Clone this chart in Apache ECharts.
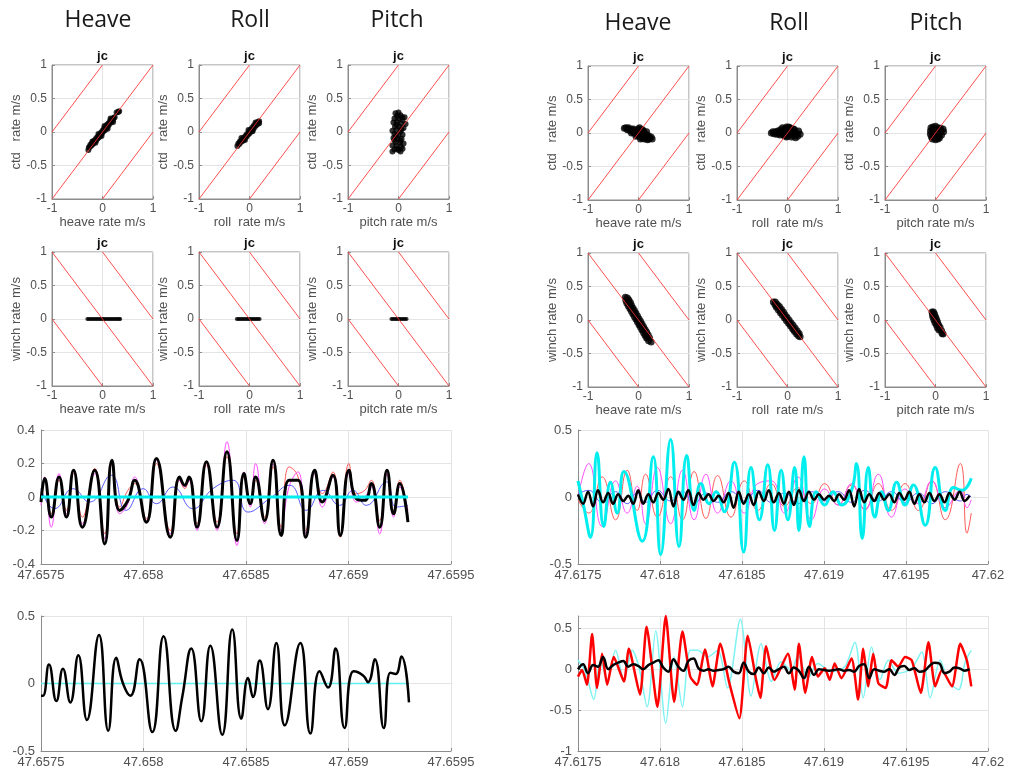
<!DOCTYPE html>
<html><head><meta charset="utf-8">
<script src="https://cdn.jsdelivr.net/npm/echarts@6/dist/echarts.min.js"></script>
<style>html,body{margin:0;padding:0;background:#fff}#c{width:1009px;height:779px}</style>
</head><body><div id="c"></div>
<script>
// ---------------- DATA ----------------
const headers = ['Heave', 'Roll', 'Pitch'];
const panelTitle = 'jc';
const xNames = ['heave rate m/s', 'roll  rate m/s', 'pitch rate m/s'];
const yNameCtd = 'ctd   rate m/s';
const yNameWinch = 'winch rate m/s';

// reference lines (x, y pairs)
const diagCtd = [[[-1, 0], [0, 1]], [[-1, -1], [1, 1]], [[0, -1], [1, 0]]];
const diagWinch = [[[-1, 1], [1, -1]], [[0, 1], [1, 0]], [[-1, 0], [0, -1]]];

// left group, ctd vs heave / roll / pitch rate
const L_ctd_heave = [[-0.28,-0.27],[-0.27,-0.23],[-0.25,-0.22],[-0.24,-0.19],[-0.22,-0.2],[-0.21,-0.17],[-0.19,-0.18],[-0.18,-0.14],[-0.16,-0.15],[-0.15,-0.12],[-0.13,-0.13],[-0.12,-0.09],[-0.1,-0.1],[-0.09,-0.07],[-0.07,-0.08],[-0.06,-0.04],[-0.04,-0.05],[-0.03,-0.01],[-0.01,-0.02],[0,0.02],[0.02,0.01],[0.03,0.05],[0.05,0.03],[0.06,0.08],[0.08,0.06],[0.09,0.11],[0.11,0.09],[0.12,0.13],[0.14,0.12],[0.15,0.16],[0.17,0.15],[0.18,0.19],[0.2,0.18],[0.22,0.21],[0.24,0.22],[0.28,0.29],[0.31,0.3],[0.33,0.31],[-0.2,-0.14],[-0.14,-0.16],[-0.08,-0.03],[-0.02,-0.06],[0.04,0.09],[0.1,0.05],[0.16,0.2],[0.21,0.15]];
const L_ctd_roll = [[-0.24,-0.21],[-0.22,-0.17],[-0.2,-0.18],[-0.19,-0.14],[-0.17,-0.15],[-0.15,-0.12],[-0.13,-0.13],[-0.12,-0.09],[-0.1,-0.1],[-0.08,-0.06],[-0.06,-0.07],[-0.05,-0.03],[-0.03,-0.04],[-0.01,0],[0,-0.02],[0.02,0.03],[0.04,0.01],[0.05,0.06],[0.07,0.04],[0.08,0.09],[0.1,0.07],[0.11,0.11],[0.13,0.1],[0.14,0.13],[0.16,0.12],[0.17,0.15],[0.19,0.16],[0.19,0.13],[-0.16,-0.09],[-0.09,-0.12],[-0.02,0.03],[0.06,0.01],[0.12,0.14]];
const L_ctd_pitch = [[-0.06,0.28],[0.0,0.29],[-0.03,0.24],[0.04,0.25],[0.12,0.22],[-0.08,0.2],[0.0,0.2],[0.08,0.18],[-0.1,0.14],[-0.03,0.15],[0.05,0.13],[0.14,0.12],[-0.07,0.08],[0.02,0.08],[0.1,0.06],[-0.12,0.02],[-0.04,0.03],[0.04,0.01],[-0.08,-0.03],[0.0,-0.04],[0.08,-0.04],[-0.1,-0.09],[-0.02,-0.1],[0.06,-0.1],[-0.06,-0.15],[0.03,-0.16],[0.1,-0.17],[-0.12,-0.2],[-0.04,-0.21],[0.05,-0.22],[-0.08,-0.26],[0.0,-0.27],[0.08,-0.25],[-0.12,-0.29],[0.04,-0.29],[-0.04,0.11],[0.06,0.04],[-0.05,-0.06],[0.04,-0.13],[-0.08,-0.12],[0.07,0.22],[-0.02,-0.25]];
// left group, winch vs heave / roll / pitch rate (winch rate is zero)
const L_winch_heave = [[-0.3,0],[-0.27,0],[-0.24,0],[-0.21,0],[-0.18,0],[-0.15,0],[-0.12,0],[-0.09,0],[-0.06,0],[-0.03,0],[0,0],[0.03,0],[0.06,0],[0.09,0],[0.12,0],[0.15,0],[0.18,0],[0.21,0],[0.24,0],[0.27,0],[0.3,0],[0.33,0],[0.35,0]];
const L_winch_roll = [[-0.25,0],[-0.22,0],[-0.19,0],[-0.16,0],[-0.13,0],[-0.1,0],[-0.07,0],[-0.04,0],[-0.01,0],[0.02,0],[0.05,0],[0.08,0],[0.11,0],[0.14,0],[0.17,0],[0.2,0]];
const L_winch_pitch = [[-0.14,0],[-0.11,0],[-0.08,0],[-0.05,0],[-0.02,0],[0.01,0],[0.04,0],[0.07,0],[0.1,0],[0.13,0],[0.16,0]];

// right group
const R_ctd_heave = [[-0.28,0.07],[-0.25,0.08],[-0.22,0.05],[-0.2,0.08],[-0.18,0.04],[-0.15,0.06],[-0.12,0.03],[-0.1,0.06],[-0.08,0.0],[-0.06,0.04],[-0.04,-0.02],[-0.02,0.03],[0.0,-0.04],[0.02,0.01],[0.04,-0.06],[0.06,0.0],[0.08,-0.08],[0.1,-0.03],[0.12,-0.09],[0.14,-0.02],[0.16,-0.07],[0.18,-0.1],[0.2,-0.04],[0.22,-0.08],[0.25,-0.06],[0.27,-0.09],[0.0,0.06],[0.05,0.05],[-0.05,-0.05],[0.1,0.03],[-0.14,0.0],[0.13,-0.05],[0.07,-0.04],[-0.02,-0.01],[0.02,0.08],[0.08,0.05],[0.16,0.02],[-0.1,0.01],[0.04,-0.09],[0.2,-0.09]];
const R_ctd_roll = [[-0.32,0.0],[-0.29,0.02],[-0.27,-0.01],[-0.24,0.02],[-0.22,-0.02],[-0.19,0.03],[-0.17,-0.01],[-0.14,0.05],[-0.12,0.0],[-0.1,0.08],[-0.08,-0.03],[-0.06,0.06],[-0.04,0.01],[-0.02,0.09],[0.0,-0.05],[0.02,0.04],[0.04,-0.02],[0.06,0.07],[0.08,-0.06],[0.1,0.02],[0.12,-0.04],[0.14,0.05],[0.16,-0.07],[0.18,0.0],[0.2,-0.05],[0.22,0.03],[0.25,-0.02],[-0.06,-0.04],[0.05,0.08],[0.12,0.06],[-0.15,-0.03],[0.02,0.09],[-0.02,-0.06],[0.08,0.04],[0.15,-0.02]];
const R_ctd_pitch = [[-0.09,0.08],[-0.05,0.09],[0.0,0.1],[0.05,0.08],[0.1,0.07],[0.15,0.06],[-0.1,0.03],[-0.05,0.04],[0.0,0.05],[0.05,0.03],[0.1,0.02],[0.16,0.02],[-0.1,-0.02],[-0.04,-0.01],[0.02,0.0],[0.07,-0.02],[0.12,-0.03],[-0.08,-0.06],[-0.03,-0.05],[0.03,-0.06],[0.08,-0.07],[-0.06,-0.09],[0.0,-0.1],[0.05,-0.09]];
const R_winch_heave = [[-0.26,0.34],[-0.22,0.33],[-0.25,0.29],[-0.19,0.3],[-0.23,0.25],[-0.16,0.26],[-0.2,0.21],[-0.14,0.22],[-0.17,0.17],[-0.11,0.18],[-0.14,0.13],[-0.08,0.14],[-0.11,0.09],[-0.05,0.1],[-0.08,0.05],[-0.02,0.06],[-0.05,0.01],[0.01,0.02],[-0.02,-0.03],[0.04,-0.02],[0.01,-0.07],[0.07,-0.06],[0.04,-0.11],[0.1,-0.1],[0.07,-0.15],[0.13,-0.14],[0.1,-0.19],[0.16,-0.18],[0.13,-0.23],[0.19,-0.22],[0.16,-0.27],[0.22,-0.27],[0.2,-0.31],[0.25,-0.33],[-0.21,0.28],[-0.15,0.19],[-0.09,0.11],[-0.03,0.02],[0.03,-0.06],[0.09,-0.14],[0.15,-0.22],[0.18,-0.26]];
const R_winch_roll = [[-0.28,0.27],[-0.24,0.27],[-0.25,0.23],[-0.2,0.23],[-0.22,0.19],[-0.16,0.2],[-0.18,0.15],[-0.12,0.16],[-0.14,0.11],[-0.08,0.12],[-0.1,0.07],[-0.05,0.08],[-0.06,0.03],[-0.01,0.04],[-0.02,-0.01],[0.03,0.0],[0.02,-0.05],[0.07,-0.04],[0.06,-0.09],[0.11,-0.08],[0.1,-0.13],[0.15,-0.12],[0.14,-0.17],[0.19,-0.16],[0.18,-0.21],[0.23,-0.2],[0.22,-0.24],[0.25,-0.25],[-0.21,0.21],[-0.13,0.13],[-0.04,0.04],[0.05,-0.06],[0.13,-0.15],[0.2,-0.2]];
const R_winch_pitch = [[-0.07,0.12],[-0.04,0.12],[-0.06,0.08],[-0.02,0.09],[-0.05,0.04],[0.0,0.05],[-0.03,0.0],[0.02,0.01],[-0.01,-0.04],[0.04,-0.03],[0.02,-0.08],[0.06,-0.07],[0.04,-0.12],[0.09,-0.11],[0.07,-0.15],[0.12,-0.16],[0.13,-0.2],[0.15,-0.21]];

// ---- time series, left (47.6575 .. 47.6595) ----
const leftXTicks = [47.6575, 47.6595, 0.0005];
const lT3 = [47.657500,47.657518,47.657550,47.657588,47.657624,47.657659,47.657702,47.657762,47.657811,47.657846,47.657884,47.657924,47.657957,47.658014,47.658063,47.658131,47.658176,47.658201,47.658222,47.658261,47.658307,47.658359,47.658407,47.658456,47.658490,47.658521,47.658547,47.658591,47.658632,47.658672,47.658710,47.658754,47.658791,47.658835,47.658872,47.658924,47.658960,47.659002,47.659038,47.659079,47.659111,47.659152,47.659188,47.659220,47.659250,47.659290];
const lBlack3 = [-0.03,0.11,-0.12,0.12,-0.12,0.16,-0.18,0.16,-0.28,0.22,-0.08,-0.02,0.10,-0.15,0.23,-0.24,0.12,0.07,0.12,-0.18,0.21,-0.18,0.27,-0.26,0.14,-0.04,0.12,-0.14,0.22,-0.23,0.10,0.10,-0.24,0.16,-0.03,0.13,-0.23,0.16,-0.01,-0.02,0.08,-0.18,0.16,-0.10,0.08,-0.15];
const lRed3 = [-0.02,0.10,-0.10,0.10,-0.08,0.14,-0.12,0.17,-0.22,0.20,-0.06,0.04,0.08,-0.13,0.20,-0.20,0.10,0.05,0.11,-0.16,0.19,-0.15,0.24,-0.22,0.12,-0.02,0.10,-0.12,0.18,-0.18,0.18,0.12,-0.20,0.14,0.02,0.15,-0.24,0.20,0.02,0.04,0.10,-0.14,0.14,-0.08,0.10,-0.12];
const lMag3 = [-0.05,0.12,-0.18,0.14,-0.10,0.15,-0.16,0.14,-0.25,0.20,-0.10,-0.04,0.12,-0.14,0.22,-0.22,0.10,0.06,0.10,-0.20,0.20,-0.20,0.33,-0.29,0.15,-0.06,0.20,-0.16,0.20,-0.20,0.06,0.15,-0.22,0.14,-0.06,0.12,-0.22,0.14,-0.03,0.00,0.06,-0.22,0.14,-0.12,0.06,-0.08];
const lT3blue = [47.657500,47.657567,47.657656,47.657737,47.657843,47.657916,47.657998,47.658063,47.658144,47.658241,47.658339,47.658437,47.658510,47.658615,47.658713,47.658794,47.658876,47.658957,47.659022,47.659087,47.659185,47.659233,47.659290];
const lBlue3 = [0.05,-0.07,0.05,-0.03,0.13,-0.08,0.05,-0.04,0.06,-0.07,0.05,0.10,-0.09,-0.01,0.07,-0.08,0.04,-0.05,0.04,-0.05,0.09,-0.06,-0.05];
const lCyanT = [47.657500, 47.659290];
const lCyan = [0, 0];
const lT4 = [47.657500,47.657510,47.657539,47.657575,47.657607,47.657643,47.657682,47.657724,47.657783,47.657828,47.657867,47.657900,47.657936,47.657981,47.658043,47.658098,47.658157,47.658189,47.658233,47.658282,47.658326,47.658384,47.658433,47.658477,47.658510,47.658534,47.658567,47.658607,47.658648,47.658689,47.658765,47.658814,47.658859,47.658900,47.658937,47.658981,47.659025,47.659071,47.659095,47.659128,47.659172,47.659204,47.659230,47.659258,47.659295];
const lBlack4 = [-0.09,-0.09,0.14,-0.13,0.11,-0.14,0.21,-0.27,0.36,-0.35,0.19,0.00,-0.09,0.18,-0.36,0.35,-0.35,-0.10,0.26,-0.28,0.28,-0.38,0.40,-0.26,0.04,-0.10,0.17,-0.19,0.30,-0.31,0.30,-0.37,0.09,-0.03,0.26,-0.33,0.09,0.06,0.01,0.18,-0.33,0.08,0.07,0.20,-0.14];
const lCyan4T = [47.657500, 47.659295];
const lCyan4 = [0, 0];

// ---- time series, right (47.6175 .. 47.62) ----
const rGridT = [47.617500,47.617531,47.617561,47.617592,47.617622,47.617653,47.617684,47.617714,47.617745,47.617776,47.617806,47.617837,47.617867,47.617898,47.617929,47.617959,47.617990,47.618020,47.618051,47.618082,47.618112,47.618143,47.618173,47.618204,47.618235,47.618265,47.618296,47.618327,47.618357,47.618388,47.618418,47.618449,47.618480,47.618510,47.618541,47.618571,47.618602,47.618633,47.618663,47.618694,47.618725,47.618755,47.618786,47.618816,47.618847,47.618878,47.618908,47.618939,47.618969,47.619000,47.619031,47.619061,47.619092,47.619122,47.619153,47.619184,47.619214,47.619245,47.619276,47.619306,47.619337,47.619367,47.619398,47.619429,47.619459,47.619490,47.619520,47.619551,47.619582,47.619612,47.619643,47.619673,47.619704,47.619735,47.619765,47.619796,47.619827,47.619857,47.619888];
const rBlack3 = [0.02,-0.05,0.04,-0.07,0.05,-0.04,0.03,-0.05,0.02,-0.03,0.01,-0.05,0.05,-0.05,0.02,-0.04,0.03,-0.02,0.06,-0.07,0.04,-0.02,0.05,-0.06,0.03,-0.02,0.02,-0.03,0.01,-0.04,0.03,-0.08,0.04,-0.05,0.02,-0.06,0.04,-0.03,0.05,-0.04,0.03,-0.05,0.04,-0.06,0.05,-0.03,0.04,-0.02,0.02,-0.02,0.01,-0.03,0.02,-0.02,0.05,-0.07,0.06,-0.04,0.02,-0.03,0.03,-0.02,0.02,-0.04,0.03,-0.02,0.04,-0.05,0.02,-0.04,0.03,-0.03,0.02,-0.04,0.03,-0.02,0.04,-0.03,0.01];
const rCyanT3 = [47.617500,47.617535,47.617576,47.617616,47.617657,47.617698,47.617739,47.617780,47.617892,47.617959,47.618004,47.618065,47.618116,47.618163,47.618208,47.618249,47.618300,47.618341,47.618392,47.618453,47.618510,47.618555,47.618606,47.618657,47.618698,47.618739,47.618780,47.618821,47.618847,47.618878,47.618912,47.618953,47.619004,47.619055,47.619106,47.619168,47.619198,47.619233,47.619270,47.619310,47.619351,47.619392,47.619443,47.619494,47.619545,47.619617,47.619678,47.619739,47.619790,47.619841,47.619898];
const rCyan3 = [0.12,-0.07,-0.30,0.33,-0.22,0.11,-0.12,0.19,-0.33,0.30,-0.43,0.43,-0.37,0.31,-0.10,0.10,-0.05,0.04,-0.11,0.26,-0.41,0.22,-0.17,0.24,-0.25,0.20,-0.17,0.22,-0.25,0.30,-0.22,0.04,-0.06,0.04,-0.06,0.05,0.25,-0.31,0.22,-0.15,0.04,-0.10,0.11,-0.06,0.09,-0.21,0.22,-0.10,0.07,0.05,0.14];
const rThinT3 = [47.617500,47.617565,47.617647,47.617729,47.617800,47.617861,47.617912,47.617984,47.618065,47.618137,47.618208,47.618280,47.618351,47.618433,47.618514,47.618596,47.618678,47.618759,47.618841,47.618923,47.619004,47.619086,47.619168,47.619249,47.619331,47.619412,47.619494,47.619576,47.619657,47.619739,47.619831,47.619872,47.619898];
const rRed3 = [-0.02,-0.12,0.15,-0.17,0.20,-0.10,0.17,-0.15,0.15,-0.17,0.19,-0.16,0.16,-0.15,0.12,-0.10,0.10,-0.07,0.07,-0.05,0.10,-0.06,0.09,-0.09,0.10,-0.10,0.10,-0.10,0.12,-0.17,0.25,-0.27,-0.12];
const rMag3 = [0.00,0.25,-0.22,0.12,-0.12,0.08,-0.20,0.22,-0.20,0.20,-0.17,0.17,-0.12,0.12,-0.12,0.10,0.12,-0.12,0.15,-0.17,0.06,-0.06,0.10,-0.10,0.17,-0.15,0.06,-0.05,0.12,-0.08,0.05,-0.08,-0.02];
const rBlue3 = [0.02,0.05,-0.04,0.04,-0.05,0.03,-0.04,0.05,-0.03,0.04,-0.05,0.03,-0.04,0.04,-0.03,0.05,-0.04,0.03,-0.05,0.04,-0.03,0.04,-0.04,0.05,-0.03,0.04,-0.04,0.03,-0.05,0.04,-0.03,0.02,0.00];
const rRedT4 = [47.617500,47.617525,47.617555,47.617586,47.617616,47.617647,47.617678,47.617718,47.617780,47.617810,47.617878,47.617918,47.617984,47.618035,47.618086,47.618137,47.618184,47.618225,47.618274,47.618320,47.618367,47.618423,47.618484,47.618535,47.618586,47.618612,47.618647,47.618698,47.618780,47.618821,47.618847,47.618886,47.618927,47.618963,47.619004,47.619035,47.619065,47.619106,47.619168,47.619208,47.619239,47.619270,47.619300,47.619331,47.619376,47.619412,47.619453,47.619494,47.619535,47.619590,47.619637,47.619678,47.619719,47.619780,47.619831,47.619872,47.619898];
const rRed4 = [-0.09,-0.01,-0.19,0.43,-0.23,0.19,-0.19,0.15,-0.15,0.25,-0.31,0.52,-0.46,0.65,-0.40,0.46,-0.09,-0.19,0.24,-0.21,0.31,-0.17,-0.60,0.41,-0.13,-0.35,0.28,-0.13,0.19,-0.25,0.31,-0.29,0.15,-0.09,0.01,-0.13,0.07,-0.11,0.13,-0.37,0.25,-0.21,0.19,-0.17,-0.23,0.11,0.03,0.15,0.11,-0.29,0.33,-0.21,-0.01,-0.21,0.31,0.10,-0.21];
const rCyanT4 = [47.617500,47.617545,47.617596,47.617637,47.617678,47.617729,47.617780,47.617831,47.617871,47.617922,47.617974,47.618035,47.618086,47.618137,47.618184,47.618229,47.618290,47.618351,47.618412,47.618490,47.618555,47.618616,47.618678,47.618739,47.618800,47.618841,47.618902,47.618963,47.619045,47.619127,47.619188,47.619239,47.619290,47.619341,47.619392,47.619453,47.619535,47.619596,47.619647,47.619708,47.619759,47.619821,47.619861,47.619898];
const rCyan4 = [0.11,-0.03,-0.37,0.11,-0.13,0.23,-0.13,0.23,0.03,-0.46,0.47,-0.66,0.15,-0.46,0.23,0.23,0.15,0.23,-0.23,0.61,-0.33,0.31,-0.15,0.09,-0.01,0.17,-0.11,0.07,-0.03,0.03,0.33,-0.35,0.27,-0.13,0.11,-0.05,0.01,0.21,-0.35,0.11,-0.15,-0.25,0.09,0.23];
const rBlack4 = [0.00,0.06,-0.05,0.05,0.03,0.15,0.00,0.05,0.08,0.10,0.03,0.06,0.04,0.00,0.05,0.08,0.11,0.02,-0.03,0.12,0.03,-0.02,0.10,0.13,0.01,-0.02,0.00,-0.02,-0.01,0.00,0.03,-0.03,-0.05,0.08,-0.03,-0.06,0.02,-0.05,0.02,-0.03,0.00,0.03,-0.05,0.02,-0.02,-0.11,0.03,-0.07,0.00,-0.01,-0.02,-0.01,0.00,-0.02,-0.01,-0.03,0.04,0.06,-0.11,0.00,-0.02,-0.03,0.00,-0.07,0.02,0.04,-0.01,0.01,-0.03,-0.02,0.04,0.08,0.07,-0.05,-0.03,0.02,0.01,-0.02,0.00];

// ---------------- BUILD ----------------
const FONT = '"Liberation Sans", Arial, sans-serif';
const LABEL = '#505050';
const AXC = '#8c8c8c';
const grids = [], xAxes = [], yAxes = [], series = [], graphics = [];
const zip = (t, v) => t.map((x, i) => [x, v[i]]);

function scatterPanel(left, top, xName, yName, cloud, diag, dot) {
  const i = grids.length;
  const W = 101, H = 134;
  grids.push({ left: left, top: top, width: W, height: H, show: true, borderColor: AXC, borderWidth: 1 });
  const common = {
    type: 'value', gridIndex: i, min: -1, max: 1,
    nameLocation: 'middle',
    nameTextStyle: { fontFamily: FONT, fontSize: 13, color: LABEL },
    axisLine: { show: true, onZero: false, lineStyle: { color: AXC } },
    axisTick: { show: true, inside: true, length: 3, lineStyle: { color: AXC } },
    axisLabel: { fontFamily: FONT, fontSize: 12, color: LABEL },
    splitLine: { show: true, lineStyle: { color: '#e4e4e4', width: 1 } }
  };
  xAxes.push(Object.assign({}, common, { interval: 1, name: xName, nameGap: 16,
    axisLabel: Object.assign({}, common.axisLabel, { margin: 4 }) }));
  yAxes.push(Object.assign({}, common, { interval: 0.5, name: yName, nameGap: 28, nameRotate: 90,
    axisLabel: Object.assign({}, common.axisLabel, { margin: 5 }) }));
  series.push({ type: 'scatter', xAxisIndex: i, yAxisIndex: i, data: cloud, symbolSize: dot,
    itemStyle: { color: '#000' }, z: 2, silent: true });
  diag.forEach(seg => series.push({ type: 'line', xAxisIndex: i, yAxisIndex: i, data: seg,
    showSymbol: false, lineStyle: { color: '#ff3030', width: 1, opacity: 0.85 }, z: 3, silent: true }));
  graphics.push({ type: 'text', x: left + W / 2, y: top - 9,
    style: { text: panelTitle, textAlign: 'center', textVerticalAlign: 'middle', align: 'center', verticalAlign: 'middle',
      font: 'bold 13px ' + FONT, fill: '#111' } });
}

function tsPanel(left, top, height, xr, yr, yInt, lines, hideMax) {
  const i = grids.length;
  grids.push({ left: left, top: top, width: 410, height: height, show: false });
  xAxes.push({ type: 'value', gridIndex: i, min: xr[0], max: xr[1], interval: xr[2],
    axisLine: { show: true, onZero: false, lineStyle: { color: AXC } },
    axisTick: { show: true, inside: true, length: 3, lineStyle: { color: AXC } },
    axisLabel: { fontFamily: FONT, fontSize: 13, color: LABEL, margin: 5 },
    splitLine: { show: true, lineStyle: { color: '#e4e4e4' } } });
  yAxes.push({ type: 'value', gridIndex: i, min: yr[0], max: yr[1], interval: yInt,
    axisLine: { show: true, onZero: false, lineStyle: { color: AXC } },
    axisTick: { show: true, inside: true, length: 3, lineStyle: { color: AXC } },
    axisLabel: { fontFamily: FONT, fontSize: 13, color: LABEL, margin: 6, showMaxLabel: !hideMax },
    splitLine: { show: true, lineStyle: { color: '#e4e4e4' } } });
  lines.forEach((l, k) => series.push({ type: 'line', xAxisIndex: i, yAxisIndex: i, data: l.data,
    showSymbol: false, smooth: l.smooth, silent: true, z: 2 + k * 0.01,
    lineStyle: { color: l.color, width: l.width } }));
}

const LX = [52, 199, 348], RX = [588, 737, 885];
const Lclouds = [[L_ctd_heave, L_ctd_roll, L_ctd_pitch], [L_winch_heave, L_winch_roll, L_winch_pitch]];
const Rclouds = [[R_ctd_heave, R_ctd_roll, R_ctd_pitch], [R_winch_heave, R_winch_roll, R_winch_pitch]];
[65, 252].forEach((top, r) => LX.forEach((x, c) =>
  scatterPanel(x, top, xNames[c], r === 0 ? yNameCtd : yNameWinch, Lclouds[r][c], r === 0 ? diagCtd : diagWinch, r === 0 ? 6 : 4)));
[66, 253].forEach((top, r) => RX.forEach((x, c) =>
  scatterPanel(x, top, xNames[c], r === 0 ? yNameCtd : yNameWinch, Rclouds[r][c], r === 0 ? diagCtd : diagWinch, 7)));

const rightXTicks = [47.6175, 47.62, 0.0005];
tsPanel(41, 430, 134, leftXTicks, [-0.4, 0.4], 0.2, [
  { data: zip(lT3, lRed3), color: '#ff5a5a', width: 1, smooth: 0.5 },
  { data: zip(lT3, lMag3), color: '#ff4dff', width: 1, smooth: 0.5 },
  { data: zip(lT3blue, lBlue3), color: '#5a5aff', width: 1, smooth: 0.5 },
  { data: zip(lT3, lBlack3), color: '#000', width: 3, smooth: 0.5 },
  { data: zip(lCyanT, lCyan), color: '#00eeee', width: 3, smooth: false }
]);
tsPanel(578, 430, 134, rightXTicks, [-0.5, 0.5], 0.5, [
  { data: zip(rThinT3, rRed3), color: '#ff5a5a', width: 1, smooth: 0.5 },
  { data: zip(rThinT3, rMag3), color: '#ff4dff', width: 1, smooth: 0.5 },
  { data: zip(rThinT3, rBlue3), color: '#6060ff', width: 1, smooth: 0.5 },
  { data: zip(rCyanT3, rCyan3), color: '#00eeee', width: 3, smooth: 0.5 },
  { data: zip(rGridT, rBlack3), color: '#000', width: 2.5, smooth: 0.4 }
]);
tsPanel(41, 616, 135, leftXTicks, [-0.5, 0.5], 0.5, [
  { data: zip(lCyan4T, lCyan4), color: '#5ff0f0', width: 1.5, smooth: false },
  { data: zip(lT4, lBlack4), color: '#000', width: 2.5, smooth: 0.5 }
]);
tsPanel(578, 616, 135, rightXTicks, [-1, 0.65], 0.5, [
  { data: zip(rCyanT4, rCyan4), color: '#7ff2f2', width: 1.5, smooth: 0.3 },
  { data: zip(rRedT4, rRed4), color: '#ff0000', width: 2.5, smooth: 0.2 },
  { data: zip(rGridT, rBlack4), color: '#000', width: 2.5, smooth: 0.4 }
], true);

const headerXL = [98, 250, 397], headerXR = [638, 789, 936];
headerXL.forEach((x, k) => graphics.push({ type: 'text', x: x, y: 20,
  style: { text: headers[k], textAlign: 'center', textVerticalAlign: 'middle', align: 'center', verticalAlign: 'middle',
    font: '23px "Open Sans", sans-serif', fill: '#1a1a1a' } }));
headerXR.forEach((x, k) => graphics.push({ type: 'text', x: x, y: 23,
  style: { text: headers[k], textAlign: 'center', textVerticalAlign: 'middle', align: 'center', verticalAlign: 'middle',
    font: '23px "Open Sans", sans-serif', fill: '#1a1a1a' } }));

const chart = echarts.init(document.getElementById('c'), null, { renderer: 'canvas' });
chart.setOption({
  animation: false,
  backgroundColor: '#fff',
  grid: grids, xAxis: xAxes, yAxis: yAxes, series: series,
  graphic: { elements: graphics }
});
</script>
</body></html>
